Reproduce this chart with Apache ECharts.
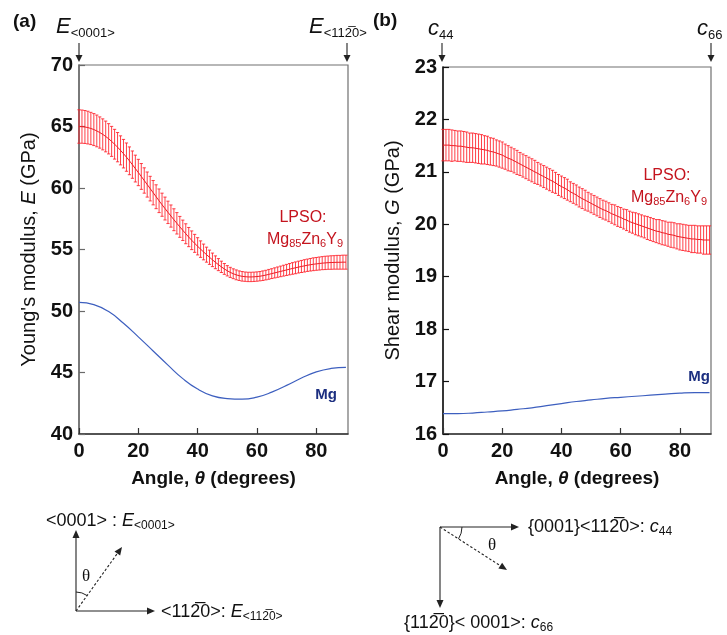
<!DOCTYPE html>
<html><head><meta charset="utf-8">
<script src="https://cdn.jsdelivr.net/npm/echarts@6/dist/echarts.min.js"></script>
<style>html,body{margin:0;padding:0;background:#fff}#c{width:727px;height:635px}</style>
</head><body><div id="c"></div>
<script>
// ---------- data ----------
const angles = [0,1,2,3,4,5,6,7,8,9,10,11,12,13,14,15,16,17,18,19,20,21,22,23,24,25,26,27,28,29,30,
  31,32,33,34,35,36,37,38,39,40,41,42,43,44,45,46,47,48,49,50,51,52,53,54,55,56,57,58,59,60,
  61,62,63,64,65,66,67,68,69,70,71,72,73,74,75,76,77,78,79,80,81,82,83,84,85,86,87,88,89,90];
// LPSO Young's modulus E (GPa), mean and half error bar
const lpsoE = [65.00,64.99,64.96,64.91,64.84,64.75,64.64,64.51,64.36,64.19,64.00,
  63.79,63.56,63.32,63.06,62.79,62.51,62.21,61.90,61.58,61.26,
  60.94,60.61,60.28,59.95,59.62,59.29,58.96,58.64,58.33,58.02,
  57.72,57.42,57.13,56.84,56.56,56.28,56.01,55.75,55.50,55.26,
  55.03,54.80,54.58,54.37,54.16,53.96,53.77,53.59,53.42,53.27,
  53.14,53.03,52.94,52.87,52.82,52.79,52.77,52.77,52.78,52.80,
  52.83,52.87,52.92,52.98,53.04,53.10,53.16,53.22,53.28,53.34,
  53.40,53.46,53.51,53.57,53.62,53.67,53.72,53.76,53.80,53.83,
  53.86,53.89,53.91,53.93,53.94,53.95,53.96,53.96,53.97,53.97];
const lpsoEErr = [1.36,1.35,1.34,1.33,1.31,1.30,1.29,1.27,1.26,1.25,1.23,
  1.22,1.21,1.19,1.18,1.16,1.15,1.13,1.11,1.09,1.07,
  1.05,1.03,1.02,1.00,0.99,0.97,0.96,0.94,0.93,0.91,
  0.90,0.89,0.87,0.85,0.83,0.81,0.78,0.76,0.73,0.70,
  0.67,0.64,0.61,0.58,0.55,0.52,0.49,0.46,0.44,0.42,
  0.41,0.40,0.40,0.39,0.39,0.38,0.38,0.38,0.38,0.38,
  0.38,0.39,0.39,0.40,0.40,0.41,0.42,0.43,0.44,0.45,
  0.46,0.47,0.48,0.48,0.49,0.50,0.50,0.51,0.52,0.52,
  0.53,0.53,0.54,0.54,0.55,0.55,0.56,0.56,0.57,0.57];
// LPSO shear modulus G (GPa), mean and half error bar
const lpsoG = [21.51,21.51,21.51,21.50,21.50,21.49,21.49,21.48,21.47,21.46,21.46,
  21.45,21.44,21.43,21.42,21.41,21.39,21.38,21.36,21.34,21.32,
  21.29,21.26,21.24,21.21,21.18,21.15,21.12,21.09,21.06,21.03,
  21.00,20.97,20.94,20.91,20.88,20.85,20.82,20.79,20.75,20.72,
  20.69,20.66,20.62,20.59,20.56,20.52,20.49,20.46,20.43,20.40,
  20.37,20.34,20.31,20.28,20.26,20.23,20.20,20.18,20.15,20.13,
  20.10,20.08,20.05,20.03,20.01,19.99,19.97,19.95,19.93,19.91,
  19.89,19.87,19.86,19.84,19.83,19.81,19.80,19.79,19.77,19.76,
  19.75,19.74,19.73,19.72,19.72,19.71,19.71,19.70,19.70,19.70];
const lpsoGErr = [0.30,0.30,0.30,0.30,0.29,0.29,0.29,0.29,0.29,0.28,0.28,
  0.28,0.28,0.28,0.27,0.27,0.26,0.26,0.25,0.25,0.25,
  0.24,0.24,0.23,0.23,0.23,0.22,0.22,0.22,0.22,0.22,
  0.22,0.21,0.21,0.21,0.21,0.21,0.21,0.20,0.20,0.20,
  0.20,0.20,0.19,0.19,0.19,0.19,0.19,0.19,0.18,0.18,
  0.18,0.18,0.18,0.18,0.18,0.18,0.18,0.19,0.19,0.19,
  0.19,0.20,0.20,0.20,0.21,0.21,0.21,0.21,0.22,0.22,
  0.22,0.22,0.23,0.23,0.23,0.23,0.24,0.24,0.24,0.25,
  0.25,0.25,0.25,0.26,0.26,0.26,0.26,0.27,0.27,0.27];
// pure Mg curves
const mgAngles = [0,5,10,15,20,25,30,35,40,45,50,55,60,65,70,75,80,85,90];
const mgE = [50.70,50.52,49.95,49.00,47.90,46.75,45.60,44.50,43.65,43.10,42.88,42.83,43.00,43.40,43.95,44.55,45.05,45.33,45.42];
const mgG = [16.39,16.39,16.40,16.42,16.44,16.47,16.50,16.54,16.58,16.62,16.65,16.68,16.70,16.72,16.74,16.76,16.78,16.79,16.79];
// tick labels
const xTicks = [0,20,40,60,80];
const yTicksE = [40,45,50,55,60,65,70];
const yTicksG = [16,17,18,19,20,21,22,23];

// ---------- chart ----------
const FONT = '"Liberation Sans", Arial, sans-serif';
const RED = '#ee1c24', BAR = 'rgba(255,30,40,0.85)', BLUE = '#3d5fbf', LRED = '#c4141e';
const chart = echarts.init(document.getElementById('c'), null, {renderer: 'canvas'});

function errSeries(xi, means, errs) {
  return {
    type: 'custom', xAxisIndex: xi, yAxisIndex: xi, z: 3,
    data: angles.map((a, i) => [a, means[i], errs[i]]),
    encode: {x: 0, y: 1},
    renderItem: function (params, api) {
      const x = api.value(0), m = api.value(1), e = api.value(2);
      const t = api.coord([x, m + e]), b = api.coord([x, m - e]);
      const st = {stroke: BAR, lineWidth: 1};
      return {type: 'group', children: [
        {type: 'line', shape: {x1: t[0], y1: t[1], x2: b[0], y2: b[1]}, style: st},
        {type: 'line', shape: {x1: t[0] - 1.6, y1: t[1], x2: t[0] + 1.6, y2: t[1]}, style: st},
        {type: 'line', shape: {x1: b[0] - 1.6, y1: b[1], x2: b[0] + 1.6, y2: b[1]}, style: st}
      ]};
    }
  };
}

function xAxisDef(gi, max) {
  return {
    type: 'value', gridIndex: gi, min: 0, max: max, interval: 20,
    axisLine: {show: true, lineStyle: {color: '#333', width: 1.5}},
    axisTick: {show: true, inside: true, length: 6, lineStyle: {color: '#333', width: 1.2}},
    splitLine: {show: false},
    axisLabel: {color: '#111', fontFamily: FONT, fontWeight: 'bold', fontSize: 20, margin: 7,
      showMaxLabel: false,
      formatter: v => xTicks.includes(v) ? String(v) : ''},
    name: 'Angle, {i|θ} (degrees)', nameLocation: 'middle', nameGap: 35,
    nameTextStyle: {color: '#111', fontFamily: FONT, fontWeight: 'bold', fontSize: 19,
      rich: {i: {fontStyle: 'italic', fontWeight: 'bold', fontSize: 19, fontFamily: FONT, color: '#111'}}}
  };
}
function yAxisDef(gi, min, max, interval, ticks, name, axisColor) {
  return {
    type: 'value', gridIndex: gi, min: min, max: max, interval: interval,
    axisLine: {show: true, lineStyle: {color: axisColor, width: 1.5}},
    axisTick: {show: true, inside: true, length: 6, lineStyle: {color: axisColor, width: 1.2}},
    splitLine: {show: false},
    axisLabel: {color: '#111', fontFamily: FONT, fontWeight: 'bold', fontSize: 20, margin: 6,
      formatter: v => ticks.includes(v) ? String(v) : ''},
    name: name, nameLocation: 'middle', nameGap: 40, nameRotate: 90,
    nameTextStyle: {color: '#111', fontFamily: FONT, fontSize: 20,
      rich: {i: {fontStyle: 'italic', fontSize: 20, fontFamily: FONT, color: '#111'}}}
  };
}

// decorative arrows
function arrow(x1, y1, x2, y2, dashed, L, W) {
  L = L || 8; W = W || 3.5;
  const a = Math.atan2(y2 - y1, x2 - x1), c = Math.cos(a), s = Math.sin(a);
  const bx = x2 - L * c, by = y2 - L * s;
  return [
    {type: 'line', shape: {x1: x1, y1: y1, x2: bx, y2: by},
      style: {stroke: '#222', lineWidth: 1.1, lineDash: dashed ? [2.5, 2] : null}},
    {type: 'polygon', shape: {points: [[x2, y2], [bx + W * s, by - W * c], [bx - W * s, by + W * c]]},
      style: {fill: '#222'}}
  ];
}
function txt(x, y, text, rich, extra) {
  return {type: 'text', x: x, y: y, style: Object.assign({
    text: text, fill: '#111', font: '18px ' + FONT, textVerticalAlign: 'middle', textAlign: 'left', rich: rich
  }, extra || {})};
}
const bar2 = '2\u0305';
const topRich = {
  e: {fontSize: 22, fontStyle: 'italic', fontFamily: FONT, fill: '#111', lineHeight: 24},
  s: {fontSize: 13, fontFamily: FONT, fill: '#111', lineHeight: 14, padding: [12, 0, 0, 0]}
};
const diagRich = {
  e: {fontSize: 18, fontStyle: 'italic', fontFamily: FONT, fill: '#111', lineHeight: 20},
  s: {fontSize: 12, fontFamily: FONT, fill: '#111', lineHeight: 12, padding: [9, 0, 0, 0]}
};
const lpsoRich = {
  b: {fontSize: 16, fontFamily: FONT, fill: LRED, lineHeight: 18},
  s: {fontSize: 11, fontFamily: FONT, fill: LRED, lineHeight: 12, padding: [8, 0, 0, 0]}
};

const graphics = [].concat(
  [
    txt(13, 22, '(a)', null, {font: 'bold 19px ' + FONT}),
    txt(373, 21, '(b)', null, {font: 'bold 19px ' + FONT}),
    txt(56, 27, '{e|E}{s|<0001>}', topRich),
    txt(309, 27, '{e|E}{s|<11' + bar2 + '0>}', topRich),
    txt(428, 29, '{e|c}{s|44}', topRich),
    txt(697, 29, '{e|c}{s|66}', topRich),
    txt(303, 218, 'LPSO:', null, {font: '16px ' + FONT, fill: LRED, textAlign: 'center'}),
    txt(305, 240, '{b|Mg}{s|85}{b|Zn}{s|6}{b|Y}{s|9}', lpsoRich, {textAlign: 'center', fill: LRED}),
    txt(667, 176, 'LPSO:', null, {font: '16px ' + FONT, fill: LRED, textAlign: 'center'}),
    txt(669, 198, '{b|Mg}{s|85}{b|Zn}{s|6}{b|Y}{s|9}', lpsoRich, {textAlign: 'center', fill: LRED}),
    txt(326, 395, 'Mg', null, {font: 'bold 15px ' + FONT, fill: '#1c2f80', textAlign: 'center'}),
    txt(699, 377, 'Mg', null, {font: 'bold 15px ' + FONT, fill: '#1c2f80', textAlign: 'center'}),
    // diagram texts
    txt(46, 521, '<0001> : {e|E}{s|<0001>}', diagRich),
    txt(161, 612, '<11' + bar2 + '0>: {e|E}{s|<11' + bar2 + '0>}', diagRich),
    txt(528, 527, '{0001}<11' + bar2 + '0>: {e|c}{s|44}', diagRich),
    txt(404, 623, '{11' + bar2 + '0}< 0001>: {e|c}{s|66}', diagRich),
    txt(82, 577, 'θ', null, {font: '17px "Liberation Serif", serif'}),
    txt(488, 546, 'θ', null, {font: '17px "Liberation Serif", serif'}),
    {type: 'arc', shape: {cx: 76, cy: 611, r: 19, startAngle: -Math.PI / 2, endAngle: -0.953, clockwise: true},
      style: {stroke: '#222', lineWidth: 1, fill: null}},
    {type: 'arc', shape: {cx: 440, cy: 527, r: 22, startAngle: 0, endAngle: 0.572, clockwise: true},
      style: {stroke: '#222', lineWidth: 1, fill: null}}
  ],
  arrow(79, 43, 79, 62, false, 7, 3.5),
  arrow(347, 43, 347, 62, false, 7, 3.5),
  arrow(442, 43, 442, 62, false, 7, 3.5),
  arrow(711, 43, 711, 62, false, 7, 3.5),
  arrow(76, 611, 76, 530),
  arrow(76, 611, 155, 611),
  arrow(76, 611, 122, 547, true),
  arrow(440, 527, 519, 527),
  arrow(440, 527, 440, 608),
  arrow(440, 527, 507, 570, true)
);

const option = {
  animation: false,
  backgroundColor: '#fff',
  grid: [
    {left: 79, top: 65, width: 269, height: 369, show: true, borderColor: '#707070', borderWidth: 1.2, backgroundColor: 'transparent'},
    {left: 443, top: 67, width: 268, height: 367, show: true, borderColor: '#707070', borderWidth: 1.2, backgroundColor: 'transparent'}
  ],
  xAxis: [xAxisDef(0, 90.7), xAxisDef(1, 90.5)],
  yAxis: [
    yAxisDef(0, 40, 70, 5, yTicksE, "Young's modulus, {i|E} (GPa)", '#6a6a6a'),
    yAxisDef(1, 16, 23, 1, yTicksG, 'Shear modulus, {i|G} (GPa)', '#111')
  ],
  series: [
    errSeries(0, lpsoE, lpsoEErr),
    {type: 'line', xAxisIndex: 0, yAxisIndex: 0, showSymbol: false, z: 4,
      lineStyle: {color: RED, width: 1}, data: angles.map((a, i) => [a, lpsoE[i]])},
    {type: 'line', xAxisIndex: 0, yAxisIndex: 0, showSymbol: false, smooth: true, z: 4,
      lineStyle: {color: BLUE, width: 1.2}, data: mgAngles.map((a, i) => [a, mgE[i]])},
    errSeries(1, lpsoG, lpsoGErr),
    {type: 'line', xAxisIndex: 1, yAxisIndex: 1, showSymbol: false, z: 4,
      lineStyle: {color: RED, width: 1}, data: angles.map((a, i) => [a, lpsoG[i]])},
    {type: 'line', xAxisIndex: 1, yAxisIndex: 1, showSymbol: false, smooth: true, z: 4,
      lineStyle: {color: BLUE, width: 1.2}, data: mgAngles.map((a, i) => [a, mgG[i]])}
  ],
  graphic: graphics
};
chart.setOption(option);
</script></body></html>
